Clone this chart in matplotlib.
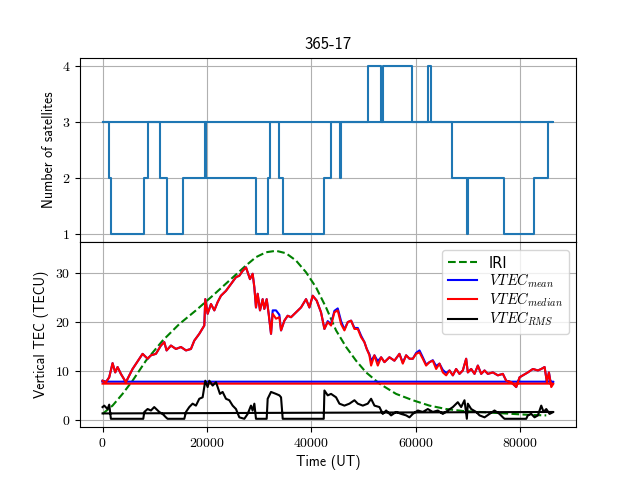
import matplotlib
matplotlib.use("Agg")
import matplotlib.pyplot as plt

# satellites in view (change points, last one wraps to t=0)
sat_t = [0, 1280, 1600, 7860, 8630, 11050, 12270, 15400, 19680, 19870, 29460, 31630, 32140,
         33870, 34570, 42370, 43840, 45500, 45690, 50800, 53360, 53800, 59240, 62430, 62820,
         66900, 69840, 70030, 76880, 82560, 85310, 86370, 0]
sat_n = [3, 2, 1, 2, 3, 2, 1, 2, 3, 2, 1, 2, 3,
         2, 1, 2, 3, 2, 3, 4, 3, 4, 3, 4, 3,
         2, 1, 2, 1, 2, 3, 3, 3]

# VTEC time axis (last sample wraps back to 0)
vtec_t = [0, 640, 1280, 1920, 2430, 2880, 3510, 4470, 5750, 7670,
          8630, 9270, 10220, 11180, 11820, 12270, 13100, 14060, 15020, 15980,
          16930, 17570, 18530, 19490, 19680, 20130, 20770, 21410, 22050, 22680,
          23640, 24600, 25560, 26200, 26840, 27480, 27800, 28240, 28750, 29080,
          29390, 29710, 30160, 30670, 30990, 31440, 31820, 32270, 32590, 33230,
          33870, 34190, 34830, 35460, 36100, 37060, 38020, 38980, 39620, 40260,
          41020, 41850, 42500, 43130, 43770, 44410, 45050, 45690, 46330, 46970,
          47610, 48250, 48890, 49530, 50160, 50610, 51120, 51440, 52080, 52720,
          53360, 54000, 54950, 55910, 56870, 57510, 58150, 58790, 59430, 60070,
          60710, 61340, 61980, 62620, 63260, 63900, 64540, 65180, 65820, 66460,
          67100, 67730, 68370, 69010, 69650, 69970, 70610, 71250, 71890, 72530,
          73170, 73800, 74760, 75720, 76680, 77320, 78280, 79240, 79880, 80510,
          81470, 82430, 83390, 84030, 84670, 85120, 85500, 85950, 86370, 0]
vtec_median = [8.0, 7.7, 8.7, 11.6, 9.7, 10.8, 9.4, 7.7, 10.4, 13.5,
               12.5, 13.2, 13.5, 15.2, 15.9, 14.2, 15.2, 14.5, 14.9, 14.2,
               14.5, 16.2, 17.6, 19.3, 24.7, 21.7, 23.7, 22.4, 24.1, 25.4,
               26.4, 27.8, 29.2, 29.5, 30.5, 31.2, 30.2, 28.8, 29.9, 27.1,
               23.0, 25.8, 22.4, 24.7, 22.7, 24.7, 21.7, 17.6, 21.7, 20.7,
               21.0, 18.3, 20.3, 21.3, 21.0, 22.0, 23.0, 24.7, 23.0, 25.4,
               24.4, 22.0, 18.6, 20.0, 19.3, 22.0, 22.4, 19.6, 18.3, 20.0,
               20.3, 18.6, 18.6, 16.9, 15.9, 14.5, 13.2, 11.1, 13.2, 11.1,
               12.8, 11.8, 12.8, 12.1, 13.5, 11.5, 13.2, 12.5, 12.5, 13.5,
               13.8, 12.5, 11.1, 11.8, 12.1, 10.4, 11.5, 9.7, 9.1, 10.1,
               9.1, 10.4, 9.4, 10.1, 12.5, 9.7, 10.4, 9.4, 11.1, 9.4,
               10.1, 9.4, 9.7, 9.1, 9.4, 8.0, 7.7, 6.7, 8.7, 9.1,
               9.7, 10.4, 10.1, 10.4, 10.8, 7.7, 9.7, 6.7, 7.4, 7.4]
vtec_mean = [8.0, 7.7, 8.7, 11.6, 9.7, 10.8, 9.4, 7.7, 10.4, 13.5,
             12.5, 13.2, 13.5, 15.2, 15.9, 14.2, 15.2, 14.5, 14.9, 14.2,
             14.5, 16.2, 17.6, 19.3, 24.7, 21.7, 23.7, 22.4, 24.1, 25.4,
             26.4, 27.8, 29.2, 29.5, 30.5, 31.2, 30.2, 28.8, 29.9, 27.1,
             23.0, 25.8, 22.4, 24.7, 22.7, 24.7, 21.7, 17.6, 22.4, 22.4,
             21.5, 18.3, 20.3, 21.3, 21.0, 22.0, 23.0, 24.7, 23.0, 25.4,
             24.4, 22.0, 18.6, 20.2, 19.6, 22.3, 22.8, 20.2, 18.5, 20.0,
             20.3, 18.8, 18.8, 17.2, 15.9, 14.5, 13.4, 12.0, 13.2, 12.0,
             12.8, 11.8, 12.8, 12.1, 13.5, 11.7, 13.2, 12.5, 12.5, 13.7,
             14.2, 12.8, 11.3, 11.8, 12.2, 11.0, 11.5, 10.2, 9.6, 10.1,
             9.1, 10.4, 9.4, 10.1, 12.5, 9.7, 10.4, 9.4, 11.1, 9.4,
             10.1, 9.4, 9.7, 9.1, 9.4, 8.0, 7.7, 6.7, 8.7, 9.1,
             9.7, 10.4, 10.1, 10.4, 10.8, 7.7, 9.7, 7.0, 7.8, 7.8]

# RMS of VTEC
rms_t = [0, 320, 960, 1280, 1600, 7800, 8000, 8630, 9270, 9900,
         10860, 11500, 12140, 12460, 15660, 15980, 16610, 17250, 17890, 18530,
         19170, 19680, 20130, 20450, 21090, 21730, 22050, 22490, 23000, 23640,
         24280, 24920, 25560, 26200, 27160, 27800, 28430, 28750, 29080, 29390,
         31440, 31630, 32270, 33230, 33870, 34190, 34510, 42370, 42500, 43130,
         43770, 44730, 45370, 46330, 47290, 48250, 48890, 49850, 50800, 51440,
         52080, 53040, 53680, 54320, 55270, 56230, 57190, 58150, 58790, 59430,
         60390, 61340, 62300, 63260, 64220, 65180, 66140, 67100, 68050, 68690,
         69330, 69780, 69970, 70610, 71570, 72210, 73170, 74120, 75080, 76040,
         76680, 77000, 81150, 81470, 82110, 82750, 83390, 84030, 84480, 84990,
         85630, 86370, 0]
rms_v = [2.6, 2.9, 2.2, 3.1, 0.2, 0.2, 1.6, 2.2, 1.9, 2.6,
         1.6, 1.2, 0.5, 0.2, 0.2, 1.6, 2.6, 3.3, 2.9, 4.3,
         4.6, 8.0, 6.7, 8.0, 7.0, 7.7, 6.7, 5.3, 5.7, 4.3,
         4.0, 2.9, 2.2, 0.5, 0.2, 1.2, 2.9, 1.9, 3.3, 0.2,
         0.2, 4.3, 5.7, 5.3, 5.0, 4.6, 0.2, 0.2, 6.0, 5.0,
         5.3, 4.6, 3.3, 2.9, 3.3, 4.0, 3.3, 2.9, 3.3, 4.3,
         2.9, 2.6, 1.2, 1.9, 0.9, 1.6, 1.2, 0.9, 0.5, 1.2,
         1.9, 1.6, 2.2, 1.6, 1.9, 1.2, 1.9, 2.6, 3.6, 2.6,
         4.0, 0.2, 3.3, 2.2, 1.6, 0.9, 0.5, 1.2, 1.9, 1.2,
         0.5, 0.2, 0.2, 0.9, 1.2, 0.5, 0.9, 2.9, 1.6, 2.2,
         1.2, 1.6, 1.3]

# IRI model
iri_t = [0, 1920, 3830, 5750, 8310, 11500, 14700, 17890, 21090, 24280, 27480, 29390,
         31310, 33230, 35140, 37060, 38980, 40900, 42810, 44730, 46650, 48560, 50480,
         53040, 56230, 59430, 62620, 65820, 69010, 72210, 75400, 78600, 81790, 84990]
iri_v = [1.2, 2.9, 5.3, 8.0, 12.1, 16.2, 19.6, 22.4, 25.4, 28.5, 31.6, 33.3,
         34.3, 34.6, 34.1, 32.6, 30.2, 27.1, 23.0, 18.3, 14.9, 12.1, 9.7,
         7.4, 5.3, 4.0, 2.9, 2.2, 1.8, 1.6, 1.4, 1.2, 1.0, 0.9]

plt.rcParams['mathtext.fontset'] = 'cm'
plt.rcParams['axes.formatter.use_mathtext'] = True
plt.rcParams['font.family'] = 'cmr10'

fig, (ax_sat, ax_tec) = plt.subplots(nrows=2, ncols=1, sharex=True, figsize=(6.4, 4.8), dpi=100)
fig.subplots_adjust(hspace=0)

ax_sat.step(sat_t, sat_n, where='post', color='#1f77b4')
ax_sat.set_yticks([1, 2, 3, 4])
ax_sat.set_ylabel("Number of satellites", fontfamily='cmss10')
ax_sat.set_title("365-17", fontfamily='cmss10')
ax_sat.grid(True)

ax_tec.plot(iri_t, iri_v, 'g--', label="IRI")
ax_tec.plot(vtec_t, vtec_mean, 'b', label=r"$VTEC_{mean}$")
ax_tec.plot(vtec_t, vtec_median, 'r', label=r"$VTEC_{median}$")
ax_tec.plot(rms_t, rms_v, 'k', label=r"$VTEC_{RMS}$")
ax_tec.set_yticks([0, 10, 20, 30])
ax_tec.set_xticks([0, 20000, 40000, 60000, 80000])
ax_tec.set_ylabel("Vertical TEC (TECU)", fontfamily='cmss10')
ax_tec.set_xlabel("Time (UT)", fontfamily='cmss10')
ax_tec.grid(True)
ax_tec.legend(loc='upper right', prop={'family': 'DejaVu Sans', 'size': 10.5},
              labelspacing=0.05)

fig.savefig("out.png", dpi=100)
